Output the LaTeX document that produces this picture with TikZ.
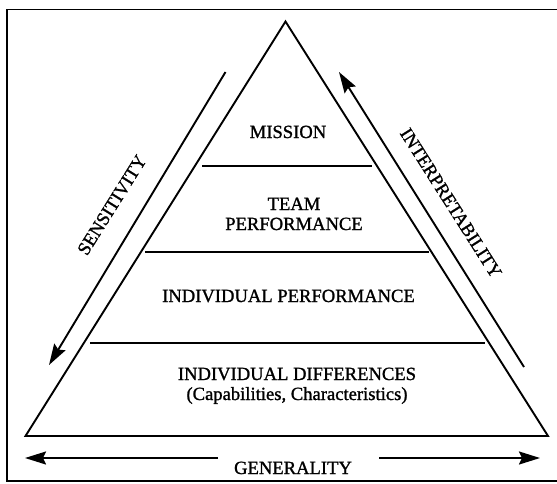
\documentclass[tikz,border=0pt]{standalone}
\usepackage{fontspec}
\setmainfont[FakeBold=1.2]{Liberation Serif}
\usetikzlibrary{arrows.meta}
\begin{document}
\begin{tikzpicture}[x=1pt,y=-1pt,line width=1.9pt,
  lbl/.style={font=\fontsize{18.6}{21}\selectfont,inner sep=0pt,anchor=base},
  side/.style={font=\fontsize{18.6}{21}\selectfont,inner sep=0pt,anchor=center},
  arr/.style={-{Stealth[length=21pt,width=13pt,inset=3pt]},line width=1.9pt}]
\useasboundingbox (0,0) rectangle (557,483);
\begin{scope}
\clip (0,0) rectangle (557,483);
\draw (7,9.5) rectangle (566,481);
\end{scope}
% pyramid
\coordinate (apex) at (285.5,21.5);
\coordinate (bl) at (25.5,436);
\coordinate (br) at (548,436);
\draw[line join=miter] (apex) -- (bl) -- (br) -- cycle;
% level separators
\coordinate (l1a) at (202,166); \coordinate (l1b) at (372,166);
\coordinate (l2a) at (145,252); \coordinate (l2b) at (429,252);
\coordinate (l3a) at (90,343);  \coordinate (l3b) at (485,343);
\draw (l1a) -- (l1b);
\draw (l2a) -- (l2b);
\draw (l3a) -- (l3b);
% labels
\node[lbl] (mission) at (288,138) {MISSION};
\node[lbl] (team) at (294,210) {TEAM};
\node[lbl] (teamb) at (294,230) {PERFORMANCE};
\node[lbl] (indperf) at (288.5,302) {INDIVIDUAL PERFORMANCE};
\node[lbl] (inddiff) at (297,380) {INDIVIDUAL DIFFERENCES};
\node[lbl] (caps) at (297,400) {(Capabilities, Characteristics)};
\node[lbl] (gen) at (293,474) {GENERALITY};
% side arrows
\coordinate (s1) at (225.5,72);
\coordinate (s2) at (49,365);
\draw[arr] (s1) -- (s2);
\coordinate (i1) at (524,367);
\coordinate (i2) at (339,72);
\draw[arr] (i1) -- (i2);
\node[side,rotate=58] (sens) at (112,205) {SENSITIVITY};
\node[side,rotate=-57.6] (interp) at (451,203) {INTERPRETABILITY};
% generality arrows
\coordinate (g1) at (218,458);
\coordinate (gl) at (25,458);
\coordinate (g2) at (379,458);
\coordinate (gr) at (540,458);
\draw[arr] (g1) -- (gl);
\draw[arr] (g2) -- (gr);
\end{tikzpicture}
\end{document}
